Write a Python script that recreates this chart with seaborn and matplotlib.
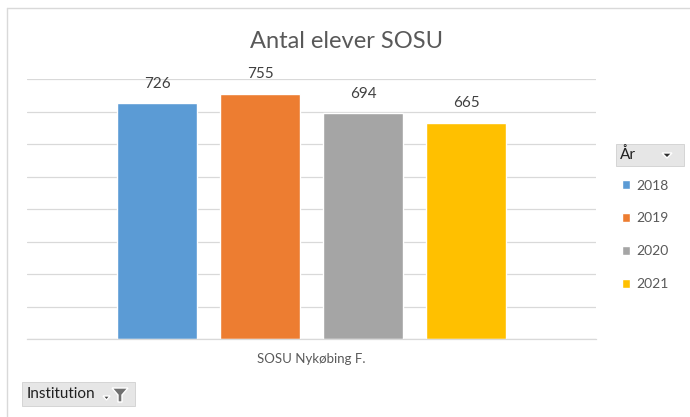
import pandas as pd
import matplotlib.pyplot as plt
import seaborn as sns
from matplotlib.patches import Rectangle, Polygon

# data
institution = ["SOSU Nykøbing F."]
years = ["2018", "2019", "2020", "2021"]
students = [726, 755, 694, 665]
colors = ["#5B9BD5", "#ED7D31", "#A5A5A5", "#FFC000"]

df = pd.DataFrame({
    "Institution": institution * len(years),
    "År": years,
    "Antal": students,
})

sns.set_style("white")
plt.rcParams["font.family"] = ["Lato", "DejaVu Sans"]

W, H = 690, 417
fig = plt.figure(figsize=(W / 100, H / 100), dpi=100)
ax = fig.add_axes([27 / W, (H - 339) / H, (596 - 27) / W, (339 - 79) / H])

sns.barplot(data=df, x="Institution", y="Antal", hue="År", palette=colors,
            width=0.724, gap=0.214, ax=ax, saturation=1, legend=True)

ax.set_ylim(0, 800)
ax.set_xlim(-0.5, 0.5)
ax.set_yticks(range(0, 801, 100))
ax.yaxis.grid(True, color="#d9d9d9", linewidth=0.9)
ax.set_axisbelow(True)
ax.tick_params(axis="y", left=False, labelleft=False)
for s in ["top", "right", "left"]:
    ax.spines[s].set_visible(False)
ax.spines["bottom"].set_color("#d9d9d9")
ax.spines["bottom"].set_linewidth(0.9)
ax.set_xlabel("")
ax.set_ylabel("")
ax.set_xticks([0])
ax.set_xticklabels(institution, fontsize=9.5, color="#595959")
ax.tick_params(axis="x", which="major", length=0, pad=10)
ax.set_xticks([-0.5, 0.5], minor=True)
ax.tick_params(axis="x", which="minor", length=5, color="#d9d9d9", width=0.9)

for c in ax.containers:
    ax.bar_label(c, fmt="%d", fontsize=11, color="#404040", padding=9)

fig.text(0.502, (H - 42) / H, "Antal elever SOSU", fontsize=17, color="#595959",
         ha="center", va="center")

# legend on the right
handles, labels = ax.get_legend_handles_labels()
ax.legend(handles, labels, loc="upper left", bbox_to_anchor=(616 / W, (H - 174) / H),
          bbox_transform=fig.transFigure, frameon=False, fontsize=10,
          labelcolor="#595959", handlelength=0.62, handleheight=0.62,
          handletextpad=0.45, labelspacing=1.5, borderaxespad=0)

# pivot-style field buttons
fig.add_artist(Rectangle((616 / W, (H - 166) / H), 68 / W, 22 / H,
                         transform=fig.transFigure, facecolor="#e6e6e6",
                         edgecolor="#d0d0d0", linewidth=0.6))
fig.text(620 / W, (H - 155) / H, "År", fontsize=11, color="#202020", va="center")
fig.add_artist(Polygon([(662 / W, (H - 153) / H), (672 / W, (H - 153) / H),
                        (667 / W, (H - 158) / H)], closed=True,
                       transform=fig.transFigure, facecolor="#303030"))

fig.add_artist(Rectangle((22 / W, (H - 406) / H), 113 / W, 24 / H,
                         transform=fig.transFigure, facecolor="#e6e6e6",
                         edgecolor="#d0d0d0", linewidth=0.6))
fig.text(27 / W, (H - 394) / H, "Institution", fontsize=11, color="#202020", va="center")
fig.add_artist(Polygon([(103 / W, (H - 396) / H), (110 / W, (H - 396) / H),
                        (106.5 / W, (H - 400) / H)], closed=True,
                       transform=fig.transFigure, facecolor="#404040"))
fig.add_artist(Polygon([(112 / W, (H - 388) / H), (128 / W, (H - 388) / H),
                        (122 / W, (H - 395) / H), (122 / W, (H - 402) / H),
                        (118 / W, (H - 402) / H), (118 / W, (H - 395) / H)],
                       closed=True, transform=fig.transFigure, facecolor="#707070"))

# outer frame (top and left edges visible)
fig.add_artist(plt.Line2D([7 / W, 1], [(H - 8) / H, (H - 8) / H],
                          transform=fig.transFigure, color="#d9d9d9", linewidth=1))
fig.add_artist(plt.Line2D([7 / W, 7 / W], [0, (H - 8) / H],
                          transform=fig.transFigure, color="#d9d9d9", linewidth=1))

fig.savefig("out.png", dpi=100)
